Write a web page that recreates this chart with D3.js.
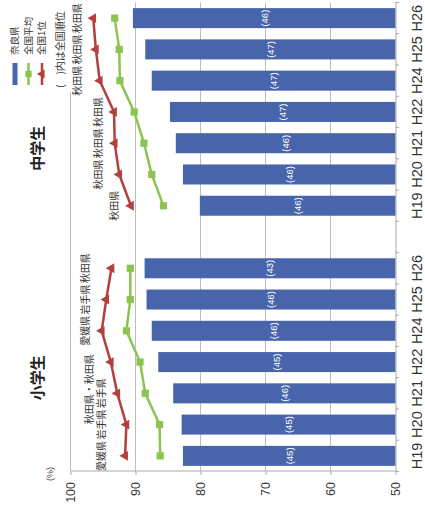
<!DOCTYPE html>
<html>
<head>
<meta charset="utf-8">
<script src="https://cdn.jsdelivr.net/npm/d3@7"></script>
<style>
  body { margin: 0; background: #fff; }
  svg { display: block; }
  text { font-family: "Liberation Sans", Arial, sans-serif; }
  .jp { font-family: "Noto Sans CJK JP", sans-serif; }
</style>
</head>
<body>
<svg width="425" height="510"></svg>
<script>
// data
const years = ["H19", "H20", "H21", "H22", "H24", "H25", "H26"];
const groups = ["小学生", "中学生"];

const naraElem = [82.7, 82.9, 84.2, 86.5, 87.5, 88.3, 88.6];
const naraMid = [80.1, 82.7, 83.8, 84.7, 87.5, 88.5, 90.4];
const avgElem = [86.2, 86.3, 88.5, 89.3, 91.4, 90.8, 90.8];
const avgMid = [85.7, 87.5, 88.7, 90.2, 92.4, 92.5, 93.2];
const topElem = [91.6, 91.4, 92.8, 93.8, 95.2, 94.5, 93.7];
const topMid = [90.7, 92.5, 93.2, 93.3, 95.5, 96.1, 96.5];

const rankElem = ["(45)", "(45)", "(46)", "(45)", "(46)", "(46)", "(43)"];
const rankMid = ["(46)", "(46)", "(46)", "(47)", "(47)", "(47)", "(46)"];

// H21/H22 elementary names sit together in one box ("秋田県・秋田県")
const topPrefElem = ["愛媛県", "岩手県", "岩手県", "", "愛媛県", "岩手県", "秋田県"];
const topPrefMid = ["秋田県", "秋田県", "秋田県", "秋田県", "秋田県", "秋田県", "秋田県"];
const extraPref = { group: "小学生", years: ["H21", "H22"], text: "秋田県・秋田県" };
// names are written in text boxes that span a few years
const prefBoxesElem = [["H19", "H20", "H21"], ["H24", "H25", "H26"]];
const prefBoxesMid = [["H19"], ["H20", "H21", "H22"], ["H24", "H25", "H26"]];

const valueTicks = [50, 60, 70, 80, 90, 100];
const legendLabels = ["奈良県", "全国平均", "全国1位"];

const svg = d3.select("svg");
// the scan is turned a quarter turn, so draw the upright chart and rotate it
const width = 510;
const height = 425;
const g = svg.append("g").attr("transform", `translate(0, ${+svg.attr("height")}) rotate(-90)`);

const blue = "#4864ab";
const green = "#8cc44f";
const red = "#b3403e";
const axisGrey = "#a9a9a9";

const series = groups.map((grp, gi) => ({
  group: grp,
  rows: years.map((y, i) => ({
    key: grp + "-" + y,
    group: grp,
    year: y,
    nara: gi === 0 ? naraElem[i] : naraMid[i],
    avg: gi === 0 ? avgElem[i] : avgMid[i],
    top: gi === 0 ? topElem[i] : topMid[i],
    rank: gi === 0 ? rankElem[i] : rankMid[i],
    pref: gi === 0 ? topPrefElem[i] : topPrefMid[i],
  })),
}));
const allRows = series[0].rows.concat(series[1].rows);
const keys = series[0].rows.map((d) => d.key).concat(["gap"], series[1].rows.map((d) => d.key));

const xScale = d3.scaleBand().domain(keys).range([38.5, 507.5]).paddingInner(0.36).paddingOuter(0.18);
const yScale = d3.scaleLinear().domain([50, 100]).range([395.5, 70.5]);
const cx = (key) => xScale(key) + xScale.bandwidth() / 2;

// highest 1st-place value among a box of years
const boxTop = (grp, yrs) => d3.max(allRows.filter((r) => r.group === grp && yrs.includes(r.year)), (r) => r.top);

// gridlines
g.selectAll(".grid")
  .data(valueTicks.slice(1))
  .enter()
  .append("line")
  .attr("x1", 38.5)
  .attr("x2", 507.5)
  .attr("y1", (d) => yScale(d))
  .attr("y2", (d) => yScale(d))
  .attr("stroke", "#bdbdbd")
  .attr("stroke-width", 1);

// value axis
const yAxisG = g
  .append("g")
  .attr("transform", "translate(38.5, 0)")
  .call(d3.axisLeft(yScale).tickValues(valueTicks).tickSizeInner(3.5).tickSizeOuter(0).tickPadding(7));
yAxisG.select(".domain").attr("stroke", axisGrey);
yAxisG.selectAll(".tick line").attr("stroke", axisGrey);
yAxisG.selectAll(".tick text").attr("font-size", 12.5).attr("fill", "#3a3a3a").attr("font-family", "Liberation Sans, Arial, sans-serif");

g.append("text")
  .attr("x", 36)
  .attr("y", 50)
  .attr("dy", "0.35em")
  .attr("text-anchor", "middle")
  .attr("font-size", 9)
  .attr("fill", "#444")
  .text("(%)");

// bars
g.selectAll(".bar")
  .data(allRows)
  .enter()
  .append("rect")
  .attr("x", (d) => xScale(d.key))
  .attr("width", xScale.bandwidth())
  .attr("y", (d) => yScale(d.nara))
  .attr("height", (d) => yScale(50) - yScale(d.nara))
  .attr("fill", blue);

g.selectAll(".rank")
  .data(allRows)
  .enter()
  .append("text")
  .attr("x", (d) => cx(d.key))
  .attr("y", (d) => (yScale(d.nara) + yScale(50)) / 2)
  .attr("dy", "0.35em")
  .attr("text-anchor", "middle")
  .attr("font-size", 9.5)
  .attr("fill", "#fff")
  .text((d) => d.rank);

// category axis
const xAxisG = g
  .append("g")
  .attr("transform", `translate(0, ${yScale(50)})`)
  .call(d3.axisBottom(xScale).tickSize(0).tickPadding(16).tickFormat((k) => (k === "gap" ? "" : k.split("-")[1])));
xAxisG.select(".domain").attr("stroke", axisGrey);
xAxisG.selectAll(".tick text").attr("font-size", 14.5).attr("fill", "#333").attr("font-family", "Liberation Sans, Arial, sans-serif");

g.selectAll(".bandTick")
  .data(d3.range(keys.length + 1))
  .enter()
  .append("line")
  .attr("x1", (i) => 38.5 + i * xScale.step())
  .attr("x2", (i) => 38.5 + i * xScale.step())
  .attr("y1", yScale(50))
  .attr("y2", yScale(50) + 3.5)
  .attr("stroke", axisGrey);

// lines and markers
const line = (field) =>
  d3
    .line()
    .x((d) => cx(d.key))
    .y((d) => yScale(d[field]));

series.forEach((s) => {
  g.append("path").attr("d", line("avg")(s.rows)).attr("fill", "none").attr("stroke", green).attr("stroke-width", 2.5);
  g.append("path").attr("d", line("top")(s.rows)).attr("fill", "none").attr("stroke", red).attr("stroke-width", 2.5);
});

g.selectAll(".avgMark")
  .data(allRows)
  .enter()
  .append("path")
  .attr("d", d3.symbol().type(d3.symbolSquare).size(52))
  .attr("transform", (d) => `translate(${cx(d.key)}, ${yScale(d.avg)})`)
  .attr("fill", green);

g.selectAll(".topMark")
  .data(allRows)
  .enter()
  .append("path")
  .attr("d", d3.symbol().type(d3.symbolTriangle).size(42))
  .attr("transform", (d) => `translate(${cx(d.key)}, ${yScale(d.top)})`)
  .attr("fill", red);

// legend box (hides the 100 gridline behind it)
g.append("rect").attr("x", 418).attr("y", 0).attr("width", 92).attr("height", 72).attr("fill", "#fff");

// names of the top prefecture
g.selectAll(".pref")
  .data(allRows.filter((d) => d.pref !== ""))
  .enter()
  .append("text")
  .attr("class", "jp")
  .attr("x", (d) => cx(d.key))
  .attr("y", (d) => {
    const boxes = d.group === groups[0] ? prefBoxesElem : prefBoxesMid;
    const box = boxes.find((b) => b.includes(d.year));
    return yScale(boxTop(d.group, box)) - 16;
  })
  .attr("dy", "0.35em")
  .attr("text-anchor", "middle")
  .attr("font-size", 10)
  .attr("fill", "#333")
  .text((d) => d.pref);

g.append("text")
  .attr("class", "jp")
  .attr("x", cx(extraPref.group + "-" + extraPref.years[0]) + 4)
  .attr("y", yScale(boxTop(extraPref.group, extraPref.years)) - 21)
  .attr("dy", "0.35em")
  .attr("text-anchor", "middle")
  .attr("font-size", 10)
  .attr("fill", "#333")
  .text(extraPref.text);

// group titles
g.append("text")
  .attr("class", "jp")
  .attr("x", (cx("小学生-H21") + cx("小学生-H22")) / 2)
  .attr("y", 38)
  .attr("dy", "0.35em")
  .attr("text-anchor", "middle")
  .attr("font-size", 15)
  .attr("font-weight", "bold")
  .attr("fill", "#222")
  .text(groups[0]);

g.append("text")
  .attr("class", "jp")
  .attr("x", cx("中学生-H21") - 5)
  .attr("y", 38)
  .attr("dy", "0.35em")
  .attr("text-anchor", "middle")
  .attr("font-size", 15)
  .attr("font-weight", "bold")
  .attr("fill", "#222")
  .text(groups[1]);

// legend
const legend = g
  .selectAll("g.legend")
  .data(legendLabels)
  .enter()
  .append("g")
  .attr("class", "legend")
  .attr("transform", (d, i) => `translate(425, ${15 + i * 13.5})`);

legend
  .filter((d, i) => i === 0)
  .append("rect")
  .attr("x", 0)
  .attr("y", -2.5)
  .attr("width", 22)
  .attr("height", 5)
  .attr("fill", blue);

legend
  .filter((d, i) => i > 0)
  .append("line")
  .attr("x1", 0)
  .attr("x2", 22)
  .attr("stroke", (d, i) => (i === 0 ? green : red))
  .attr("stroke-width", 2.5);

legend
  .filter((d, i) => i > 0)
  .append("path")
  .attr("d", (d, i) => d3.symbol().type(i === 0 ? d3.symbolSquare : d3.symbolTriangle).size(i === 0 ? 40 : 34)())
  .attr("transform", "translate(11, 0)")
  .attr("fill", (d, i) => (i === 0 ? green : red));

legend
  .append("text")
  .attr("class", "jp")
  .attr("x", 30)
  .attr("dy", "0.35em")
  .attr("font-size", 9.5)
  .attr("fill", "#333")
  .text((d) => d);

g.append("text")
  .attr("class", "jp")
  .attr("x", 422)
  .attr("y", 60)
  .attr("dy", "0.35em")
  .attr("font-size", 10)
  .attr("fill", "#333")
  .text("(　)内は全国順位");
</script>
</body>
</html>
